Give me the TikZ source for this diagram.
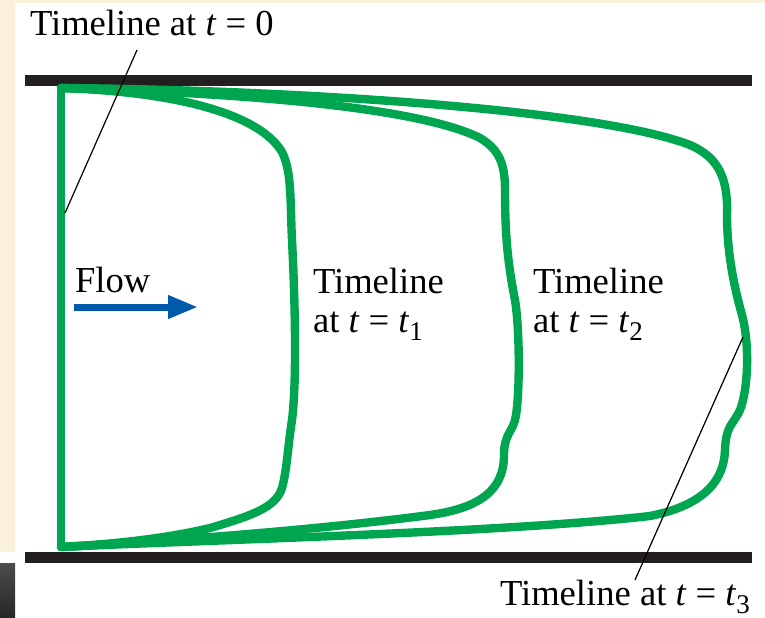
\documentclass[tikz,border=0pt]{standalone}
\usepackage{fontspec}
\setmainfont{Liberation Serif}
\usetikzlibrary{arrows.meta}
\definecolor{tlgreen}{RGB}{0,165,80}
\definecolor{flowblue}{RGB}{0,90,172}
\definecolor{barblack}{RGB}{35,31,32}
\definecolor{beige}{RGB}{251,240,218}
\newcommand{\tsub}[1]{\raisebox{-0.22em}{\fontsize{13.5}{13.5}\selectfont #1}}
\tikzset{
  wall/.style={fill=barblack, draw=none},
  timeline/.style={draw=tlgreen, line width=4.2pt, line cap=round, line join=round},
  pointer/.style={draw=black, line width=0.6pt},
  lbl/.style={inner sep=0pt, outer sep=0pt, font=\fontsize{18.3}{19.5}\selectfont, anchor=base west, align=left},
  flowarrow/.style={draw=flowblue, line width=3.5pt, -{Triangle[length=15pt,width=11pt]}}
}
\begin{document}
\begin{tikzpicture}[x=0.5pt,y=-0.5pt]
\useasboundingbox (0,0) rectangle (765,617);
\fill[white] (0,0) rectangle (765,617);
% background paper strips
\fill[beige] (0,0) rectangle (765,3);
\fill[beige] (0,0) rectangle (15,552);
\shade[top color=black!70, bottom color=black!85] (0,563) rectangle (15,617);
% walls
\fill[wall] (25,75) rectangle (752,86);
\fill[wall] (25,552) rectangle (752,563);
% timeline at t=0
\draw[timeline, line cap=butt] (61,86) -- (61,548);
% timeline at t1
\draw[timeline] (61,88) .. controls (180,92) and (260,115) .. (282,152)
  .. controls (292,172) and (290,200) .. (292,240)
  .. controls (295,300) and (297,380) .. (292,420)
  .. controls (288,445) and (287,470) .. (282,488)
  .. controls (276,508) and (250,516) .. (210,528)
  .. controls (160,540) and (100,545) .. (61,547);
% timeline at t2
\draw[timeline] (61,88) .. controls (250,93) and (420,108) .. (480,138)
  .. controls (500,150) and (505,165) .. (505,190)
  .. controls (505,230) and (507,260) .. (515,300)
  .. controls (520,330) and (520,400) .. (515,420)
  .. controls (512,432) and (504,435) .. (504,455)
  .. controls (504,490) and (480,508) .. (430,515)
  .. controls (300,532) and (150,542) .. (61,547);
% timeline at t3
\draw[timeline] (61,88) .. controls (300,90) and (600,110) .. (690,145)
  .. controls (720,158) and (728,180) .. (727,215)
  .. controls (727,255) and (735,290) .. (742,315)
  .. controls (750,345) and (748,390) .. (740,410)
  .. controls (733,425) and (726,425) .. (725,450)
  .. controls (724,480) and (705,505) .. (650,516)
  .. controls (500,533) and (200,540) .. (61,547);
% labels
\node[lbl] (l0) at (30,35) {Timeline at \textit{t} = 0};
\node[lbl] (flow) at (75,292) {Flow};
\node[lbl] (l1a) at (313,293) {Timeline};
\node[lbl] (l1b) at (313,332) {at \textit{t} = \textit{t}\tsub{1}};
\node[lbl] (l2a) at (533,293) {Timeline};
\node[lbl] (l2b) at (533,332) {at \textit{t} = \textit{t}\tsub{2}};
\node[lbl] (l3) at (500,605) {Timeline at \textit{t} = \textit{t}\tsub{3}};
% flow arrow
\coordinate (fs) at (74,307);
\coordinate (fe) at (198,307);
\draw[flowarrow] (fs) -- (fe);
% pointers
\coordinate (p0a) at (137,50);
\coordinate (p0b) at (65,213);
\draw[pointer] (p0a) -- (p0b);
\coordinate (p3a) at (743,337);
\coordinate (p3b) at (635,580);
\draw[pointer] (p3a) -- (p3b);
\end{tikzpicture}
\end{document}
